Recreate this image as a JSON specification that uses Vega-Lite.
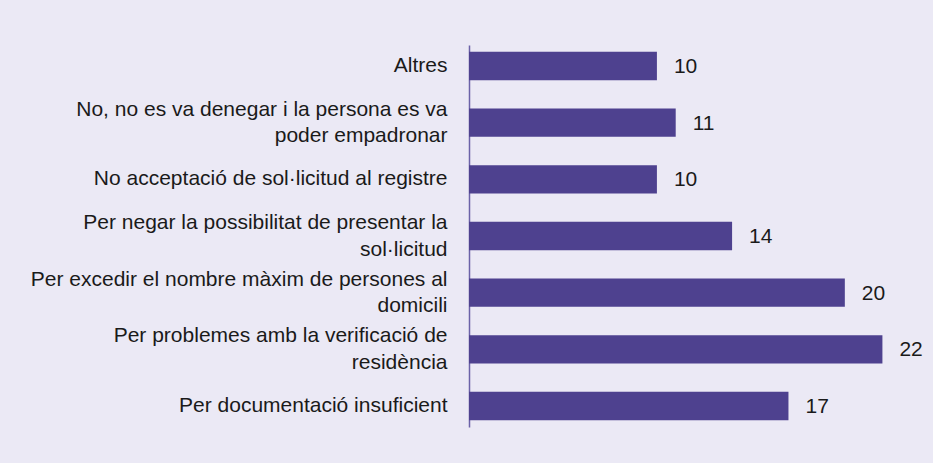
{
  "$schema": "https://vega.github.io/schema/vega-lite/v6.json",
  "autosize": "none",
  "width": 451,
  "height": 382,
  "padding": {"left": 469, "top": 45, "right": 13, "bottom": 36},
  "background": "#ebe9f5",
  "config": {"view": {"stroke": null}},
  "data": {
    "values": [
      {"motiu": "Altres", "valor": 10},
      {"motiu": "No, no es va denegar i la persona es va poder empadronar", "valor": 11},
      {"motiu": "No acceptació de sol·licitud al registre", "valor": 10},
      {"motiu": "Per negar la possibilitat de presentar la sol·licitud", "valor": 14},
      {"motiu": "Per excedir el nombre màxim de persones al domicili", "valor": 20},
      {"motiu": "Per problemes amb la verificació de residència", "valor": 22},
      {"motiu": "Per documentació insuficient", "valor": 17}
    ]
  },
  "encoding": {
    "y": {
      "field": "motiu",
      "type": "nominal",
      "sort": null,
      "scale": {"paddingInner": 0.5, "paddingOuter": 0.12},
      "axis": {
        "title": null,
        "ticks": false,
        "domainColor": "#6b62a8",
        "domainWidth": 1.5,
        "labelPadding": 22,
        "labelFontSize": 21,
        "labelFont": "Liberation Sans",
        "labelColor": "#1a1a1a",
        "labelLimit": 0,
        "labelLineHeight": 26.5,
        "labelOffset": {"condition": {"test": "length(datum.value) > 42", "value": -13}, "value": 0},
        "labelExpr": "datum.label == 'No, no es va denegar i la persona es va poder empadronar' ? ['No, no es va denegar i la persona es va', 'poder empadronar'] : datum.label == 'Per negar la possibilitat de presentar la sol·licitud' ? ['Per negar la possibilitat de presentar la', 'sol·licitud'] : datum.label == 'Per excedir el nombre màxim de persones al domicili' ? ['Per excedir el nombre màxim de persones al', 'domicili'] : datum.label == 'Per problemes amb la verificació de residència' ? ['Per problemes amb la verificació de', 'residència'] : datum.label"
      }
    },
    "x": {
      "field": "valor",
      "type": "quantitative",
      "scale": {"domain": [0, 24]},
      "axis": null
    }
  },
  "layer": [
    {"mark": {"type": "bar", "color": "#4e418f"}},
    {
      "mark": {"type": "text", "align": "left", "baseline": "middle", "dx": 17, "dy": 1, "fontSize": 21, "font": "Liberation Sans", "color": "#1a1a1a"},
      "encoding": {"text": {"field": "valor", "type": "quantitative"}}
    }
  ]
}
